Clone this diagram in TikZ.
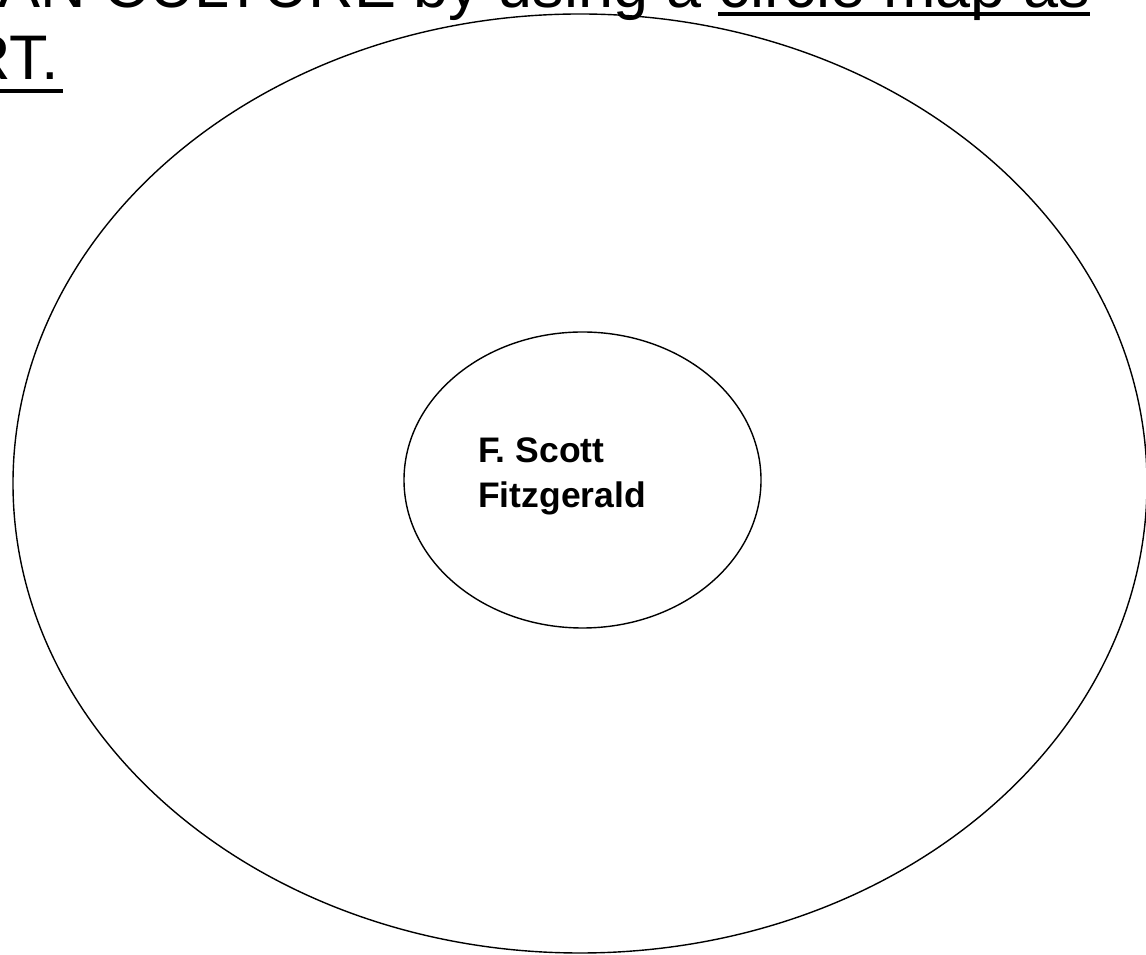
\documentclass[tikz,border=0pt]{standalone}
\usepackage{fontspec}
\setmainfont{Liberation Sans}
\begin{document}
\begin{tikzpicture}[x=1pt,y=1pt,
  ring/.style={draw=black,line width=1.4pt},
  titletext/.style={inner sep=0pt,font=\fontsize{63}{72}\selectfont},
  uline/.style={line width=4pt},
  nametext/.style={inner sep=0pt,align=left,font=\fontsize{35.5}{45}\selectfont\bfseries}]
\useasboundingbox (0,0) rectangle (1146,955);
\clip (0,0) rectangle (1146,955);
\fill[white] (0,0) rectangle (1146,955);
% title fragments (cut off by the picture's edges, as in the reference)
\node[titletext,anchor=base east] (t1) at (1090,947) {AN CULTURE by using a circle map as};
\coordinate (u1a) at (718,941);
\coordinate (u1b) at (1090,941);
\draw[uline] (u1a) -- (u1b);
\node[titletext,anchor=base east] (t2) at (59,875) {RT.};
\coordinate (u2a) at (0,864);
\coordinate (u2b) at (63,864);
\draw[uline] (u2a) -- (u2b);
% ellipses
\draw[ring] (580,471.5) ellipse [x radius=567, y radius=469.5];
\draw[ring] (582.5,475) ellipse [x radius=178.5, y radius=148];
\node[nametext,anchor=base west] (n1) at (478,492) {F. Scott};
\node[nametext,anchor=base west] (n2) at (478,447) {Fitzgerald};
\end{tikzpicture}
\end{document}
